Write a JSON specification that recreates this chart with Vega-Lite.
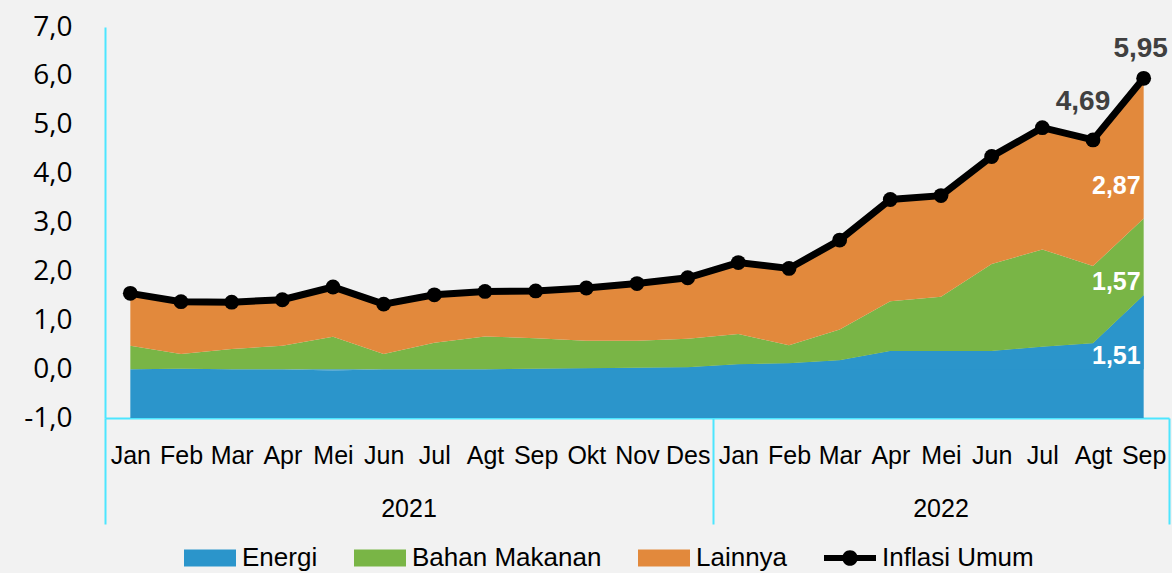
{
  "$schema": "https://vega.github.io/schema/vega-lite/v6.json",
  "width": 1064,
  "height": 391,
  "autosize": "none",
  "padding": {"left": 105, "top": 27, "right": 3, "bottom": 155},
  "background": "#F2F2F2",
  "config": {
    "view": {"stroke": null},
    "locale": {"number": {"decimal": ",", "thousands": ".", "grouping": [3], "currency": ["Rp", ""], "minus": "-"}}
  },
  "datasets": {
    "komponen": [
      {"idx": 1, "tahun": "2021", "komponen": "Energi", "urutan": 1, "nilai": 0.0},
      {"idx": 1, "tahun": "2021", "komponen": "Bahan Makanan", "urutan": 2, "nilai": 0.48},
      {"idx": 1, "tahun": "2021", "komponen": "Lainnya", "urutan": 3, "nilai": 1.07},
      {"idx": 2, "tahun": "2021", "komponen": "Energi", "urutan": 1, "nilai": 0.01},
      {"idx": 2, "tahun": "2021", "komponen": "Bahan Makanan", "urutan": 2, "nilai": 0.30},
      {"idx": 2, "tahun": "2021", "komponen": "Lainnya", "urutan": 3, "nilai": 1.07},
      {"idx": 3, "tahun": "2021", "komponen": "Energi", "urutan": 1, "nilai": 0.0},
      {"idx": 3, "tahun": "2021", "komponen": "Bahan Makanan", "urutan": 2, "nilai": 0.41},
      {"idx": 3, "tahun": "2021", "komponen": "Lainnya", "urutan": 3, "nilai": 0.96},
      {"idx": 4, "tahun": "2021", "komponen": "Energi", "urutan": 1, "nilai": 0.0},
      {"idx": 4, "tahun": "2021", "komponen": "Bahan Makanan", "urutan": 2, "nilai": 0.48},
      {"idx": 4, "tahun": "2021", "komponen": "Lainnya", "urutan": 3, "nilai": 0.94},
      {"idx": 5, "tahun": "2021", "komponen": "Energi", "urutan": 1, "nilai": -0.03},
      {"idx": 5, "tahun": "2021", "komponen": "Bahan Makanan", "urutan": 2, "nilai": 0.66},
      {"idx": 5, "tahun": "2021", "komponen": "Lainnya", "urutan": 3, "nilai": 1.05},
      {"idx": 6, "tahun": "2021", "komponen": "Energi", "urutan": 1, "nilai": 0.0},
      {"idx": 6, "tahun": "2021", "komponen": "Bahan Makanan", "urutan": 2, "nilai": 0.31},
      {"idx": 6, "tahun": "2021", "komponen": "Lainnya", "urutan": 3, "nilai": 1.02},
      {"idx": 7, "tahun": "2021", "komponen": "Energi", "urutan": 1, "nilai": 0.0},
      {"idx": 7, "tahun": "2021", "komponen": "Bahan Makanan", "urutan": 2, "nilai": 0.54},
      {"idx": 7, "tahun": "2021", "komponen": "Lainnya", "urutan": 3, "nilai": 0.98},
      {"idx": 8, "tahun": "2021", "komponen": "Energi", "urutan": 1, "nilai": 0.0},
      {"idx": 8, "tahun": "2021", "komponen": "Bahan Makanan", "urutan": 2, "nilai": 0.67},
      {"idx": 8, "tahun": "2021", "komponen": "Lainnya", "urutan": 3, "nilai": 0.92},
      {"idx": 9, "tahun": "2021", "komponen": "Energi", "urutan": 1, "nilai": 0.01},
      {"idx": 9, "tahun": "2021", "komponen": "Bahan Makanan", "urutan": 2, "nilai": 0.62},
      {"idx": 9, "tahun": "2021", "komponen": "Lainnya", "urutan": 3, "nilai": 0.97},
      {"idx": 10, "tahun": "2021", "komponen": "Energi", "urutan": 1, "nilai": 0.02},
      {"idx": 10, "tahun": "2021", "komponen": "Bahan Makanan", "urutan": 2, "nilai": 0.56},
      {"idx": 10, "tahun": "2021", "komponen": "Lainnya", "urutan": 3, "nilai": 1.08},
      {"idx": 11, "tahun": "2021", "komponen": "Energi", "urutan": 1, "nilai": 0.03},
      {"idx": 11, "tahun": "2021", "komponen": "Bahan Makanan", "urutan": 2, "nilai": 0.55},
      {"idx": 11, "tahun": "2021", "komponen": "Lainnya", "urutan": 3, "nilai": 1.17},
      {"idx": 12, "tahun": "2021", "komponen": "Energi", "urutan": 1, "nilai": 0.04},
      {"idx": 12, "tahun": "2021", "komponen": "Bahan Makanan", "urutan": 2, "nilai": 0.58},
      {"idx": 12, "tahun": "2021", "komponen": "Lainnya", "urutan": 3, "nilai": 1.25},
      {"idx": 13, "tahun": "2022", "komponen": "Energi", "urutan": 1, "nilai": 0.10},
      {"idx": 13, "tahun": "2022", "komponen": "Bahan Makanan", "urutan": 2, "nilai": 0.62},
      {"idx": 13, "tahun": "2022", "komponen": "Lainnya", "urutan": 3, "nilai": 1.46},
      {"idx": 14, "tahun": "2022", "komponen": "Energi", "urutan": 1, "nilai": 0.12},
      {"idx": 14, "tahun": "2022", "komponen": "Bahan Makanan", "urutan": 2, "nilai": 0.37},
      {"idx": 14, "tahun": "2022", "komponen": "Lainnya", "urutan": 3, "nilai": 1.57},
      {"idx": 15, "tahun": "2022", "komponen": "Energi", "urutan": 1, "nilai": 0.18},
      {"idx": 15, "tahun": "2022", "komponen": "Bahan Makanan", "urutan": 2, "nilai": 0.63},
      {"idx": 15, "tahun": "2022", "komponen": "Lainnya", "urutan": 3, "nilai": 1.83},
      {"idx": 16, "tahun": "2022", "komponen": "Energi", "urutan": 1, "nilai": 0.37},
      {"idx": 16, "tahun": "2022", "komponen": "Bahan Makanan", "urutan": 2, "nilai": 1.02},
      {"idx": 16, "tahun": "2022", "komponen": "Lainnya", "urutan": 3, "nilai": 2.08},
      {"idx": 17, "tahun": "2022", "komponen": "Energi", "urutan": 1, "nilai": 0.37},
      {"idx": 17, "tahun": "2022", "komponen": "Bahan Makanan", "urutan": 2, "nilai": 1.11},
      {"idx": 17, "tahun": "2022", "komponen": "Lainnya", "urutan": 3, "nilai": 2.07},
      {"idx": 18, "tahun": "2022", "komponen": "Energi", "urutan": 1, "nilai": 0.37},
      {"idx": 18, "tahun": "2022", "komponen": "Bahan Makanan", "urutan": 2, "nilai": 1.78},
      {"idx": 18, "tahun": "2022", "komponen": "Lainnya", "urutan": 3, "nilai": 2.20},
      {"idx": 19, "tahun": "2022", "komponen": "Energi", "urutan": 1, "nilai": 0.46},
      {"idx": 19, "tahun": "2022", "komponen": "Bahan Makanan", "urutan": 2, "nilai": 1.99},
      {"idx": 19, "tahun": "2022", "komponen": "Lainnya", "urutan": 3, "nilai": 2.49},
      {"idx": 20, "tahun": "2022", "komponen": "Energi", "urutan": 1, "nilai": 0.53},
      {"idx": 20, "tahun": "2022", "komponen": "Bahan Makanan", "urutan": 2, "nilai": 1.58},
      {"idx": 20, "tahun": "2022", "komponen": "Lainnya", "urutan": 3, "nilai": 2.58},
      {"idx": 21, "tahun": "2022", "komponen": "Energi", "urutan": 1, "nilai": 1.51},
      {"idx": 21, "tahun": "2022", "komponen": "Bahan Makanan", "urutan": 2, "nilai": 1.57},
      {"idx": 21, "tahun": "2022", "komponen": "Lainnya", "urutan": 3, "nilai": 2.87}
    ],
    "umum": [
      {"idx": 1, "tahun": "2021", "nilai": 1.55},
      {"idx": 2, "tahun": "2021", "nilai": 1.38},
      {"idx": 3, "tahun": "2021", "nilai": 1.37},
      {"idx": 4, "tahun": "2021", "nilai": 1.42},
      {"idx": 5, "tahun": "2021", "nilai": 1.68},
      {"idx": 6, "tahun": "2021", "nilai": 1.33},
      {"idx": 7, "tahun": "2021", "nilai": 1.52},
      {"idx": 8, "tahun": "2021", "nilai": 1.59},
      {"idx": 9, "tahun": "2021", "nilai": 1.60},
      {"idx": 10, "tahun": "2021", "nilai": 1.66},
      {"idx": 11, "tahun": "2021", "nilai": 1.75},
      {"idx": 12, "tahun": "2021", "nilai": 1.87},
      {"idx": 13, "tahun": "2022", "nilai": 2.18},
      {"idx": 14, "tahun": "2022", "nilai": 2.06},
      {"idx": 15, "tahun": "2022", "nilai": 2.64},
      {"idx": 16, "tahun": "2022", "nilai": 3.47},
      {"idx": 17, "tahun": "2022", "nilai": 3.55},
      {"idx": 18, "tahun": "2022", "nilai": 4.35},
      {"idx": 19, "tahun": "2022", "nilai": 4.94},
      {"idx": 20, "tahun": "2022", "nilai": 4.69},
      {"idx": 21, "tahun": "2022", "nilai": 5.95}
    ]
  },
  "resolve": {"axis": {"x": "independent"}},
  "layer": [
    {
      "data": {"name": "komponen"},
      "transform": [{"filter": "datum.komponen === 'Energi'"}],
      "mark": {"type": "area", "color": "#2B95CB"},
      "encoding": {
        "x": {
          "field": "idx", "type": "quantitative",
          "scale": {"domain": [0.5, 21.5], "nice": false, "zero": false},
          "axis": {
            "orient": "bottom",
            "values": [1, 2, 3, 4, 5, 6, 7, 8, 9, 10, 11, 12, 13, 14, 15, 16, 17, 18, 19, 20, 21],
            "labelExpr": "['Jan','Feb','Mar','Apr','Mei','Jun','Jul','Agt','Sep','Okt','Nov','Des'][(datum.value - 1) % 12]",
            "ticks": false, "tickSize": 0, "grid": false, "title": null,
            "domainColor": "#4DE6FF", "domainWidth": 2,
            "labelFont": "Liberation Sans", "labelFontSize": 25, "labelColor": "#000000",
            "labelPadding": 45, "labelBaseline": "alphabetic", "labelOverlap": false, "labelFlush": false
          }
        },
        "y": {
          "field": "nilai", "type": "quantitative", "title": null,
          "scale": {"domain": [-1, 7], "nice": false, "zero": false},
          "axis": {
            "values": [-1, 0, 1, 2, 3, 4, 5, 6, 7], "format": ".1f",
            "ticks": false, "grid": false, "title": null,
            "domainColor": "#4DE6FF", "domainWidth": 2,
            "labelFont": "Open Sans", "labelFontSize": 28, "labelColor": "#000000",
            "labelPadding": 33
          }
        },
        "y2": {"datum": -1}
      }
    },
    {
      "data": {"name": "komponen"},
      "transform": [
        {"stack": "nilai", "groupby": ["idx"], "sort": [{"field": "urutan", "order": "ascending"}], "as": ["s0", "s1"]}
      ],
      "mark": {"type": "area"},
      "encoding": {
        "x": {"field": "idx", "type": "quantitative", "scale": {"domain": [0.5, 21.5], "nice": false, "zero": false}, "axis": null},
        "y": {"field": "s1", "type": "quantitative", "stack": null, "title": null},
        "y2": {"field": "s0"},
        "color": {
          "field": "komponen", "type": "nominal",
          "scale": {
            "domain": ["Energi", "Bahan Makanan", "Lainnya", "Inflasi Umum"],
            "range": ["#2B95CB", "#79B546", "#E2893C", "#000000"]
          },
          "legend": {
            "orient": "none", "legendX": 79, "legendY": 505,
            "direction": "horizontal", "title": null,
            "symbolSize": 2704, "symbolType": "M-1,-0.33H1V0.33H-1Z",
            "symbolStrokeWidth": 0,
            "labelFont": "Liberation Sans", "labelFontSize": 26, "labelColor": "#000000",
            "labelOffset": 6, "columnPadding": 36, "labelLimit": 400,
            "encode": {
              "symbols": {
                "update": {
                  "shape": {"signal": "datum.value === 'Inflasi Umum' ? 'M-1,-0.12H1V0.12H-1Z M-0.3,0A0.3,0.3 0 1,1 0.3,0A0.3,0.3 0 1,1 -0.3,0Z' : 'M-1,-0.33H1V0.33H-1Z'"},
                  "fill": {"signal": "scale('color', datum.value)"},
                  "fillOpacity": {"value": 1},
                  "strokeWidth": {"value": 0}
                }
              }
            }
          }
        }
      }
    },
    {
      "data": {"name": "umum"},
      "mark": {"type": "line", "strokeWidth": 7, "point": {"filled": true, "size": 220}},
      "encoding": {
        "x": {"field": "idx", "type": "quantitative", "scale": {"domain": [0.5, 21.5], "nice": false, "zero": false}, "axis": null},
        "y": {"field": "nilai", "type": "quantitative", "title": null},
        "color": {"datum": "Inflasi Umum"}
      }
    },
    {
      "data": {"name": "umum"},
      "transform": [{"filter": "datum.idx === 21"}],
      "mark": {"type": "text", "font": "Liberation Sans", "fontSize": 28, "fontWeight": "bold", "color": "#404040", "align": "center", "baseline": "alphabetic", "dx": -3, "dy": -21},
      "encoding": {
        "x": {"field": "idx", "type": "quantitative", "scale": {"domain": [0.5, 21.5], "nice": false, "zero": false}, "axis": null},
        "y": {"field": "nilai", "type": "quantitative", "title": null},
        "text": {"field": "nilai", "type": "quantitative", "format": ".2f"}
      }
    },
    {
      "data": {"name": "umum"},
      "transform": [{"filter": "datum.idx === 20"}],
      "mark": {"type": "text", "font": "Liberation Sans", "fontSize": 28, "fontWeight": "bold", "color": "#404040", "align": "center", "baseline": "alphabetic", "dx": -10, "dy": -30},
      "encoding": {
        "x": {"field": "idx", "type": "quantitative", "scale": {"domain": [0.5, 21.5], "nice": false, "zero": false}, "axis": null},
        "y": {"field": "nilai", "type": "quantitative", "title": null},
        "text": {"field": "nilai", "type": "quantitative", "format": ".2f"}
      }
    },
    {
      "data": {"name": "komponen"},
      "transform": [
        {"stack": "nilai", "groupby": ["idx"], "sort": [{"field": "urutan", "order": "ascending"}], "as": ["s0", "s1"]},
        {"filter": "datum.idx === 21 && datum.komponen !== 'Lainnya'"}
      ],
      "mark": {"type": "text", "font": "Liberation Sans", "fontSize": 25, "fontWeight": "bold", "color": "#FFFFFF", "align": "right", "baseline": "alphabetic", "dx": -3, "dy": -5},
      "encoding": {
        "x": {"field": "idx", "type": "quantitative", "scale": {"domain": [0.5, 21.5], "nice": false, "zero": false}, "axis": null},
        "y": {"field": "s0", "type": "quantitative", "title": null},
        "text": {"field": "nilai", "type": "quantitative", "format": ".2f"}
      }
    },
    {
      "data": {"name": "komponen"},
      "transform": [
        {"stack": "nilai", "groupby": ["idx"], "sort": [{"field": "urutan", "order": "ascending"}], "as": ["s0", "s1"]},
        {"filter": "datum.idx === 21 && datum.komponen === 'Lainnya'"}
      ],
      "mark": {"type": "text", "font": "Liberation Sans", "fontSize": 25, "fontWeight": "bold", "color": "#FFFFFF", "align": "right", "baseline": "alphabetic", "dx": -3, "dy": -25},
      "encoding": {
        "x": {"field": "idx", "type": "quantitative", "scale": {"domain": [0.5, 21.5], "nice": false, "zero": false}, "axis": null},
        "y": {"field": "s0", "type": "quantitative", "title": null},
        "text": {"field": "nilai", "type": "quantitative", "format": ".2f"}
      }
    },
    {
      "data": {"name": "umum"},
      "mark": {"type": "text", "font": "Liberation Sans", "fontSize": 25, "color": "#000000", "align": "center", "baseline": "alphabetic", "dy": 99},
      "encoding": {
        "x": {
          "aggregate": "mean", "field": "idx", "type": "quantitative",
          "scale": {"domain": [0.5, 21.5], "nice": false, "zero": false},
          "axis": {
            "orient": "bottom", "values": [0.5, 12.5, 21.5],
            "labels": false, "domain": false, "grid": false, "title": null,
            "ticks": true, "tickSize": 106, "tickColor": "#4DE6FF", "tickWidth": 2
          }
        },
        "y": {"datum": -1, "type": "quantitative", "title": null},
        "text": {"field": "tahun", "type": "nominal"}
      }
    }
  ]
}
